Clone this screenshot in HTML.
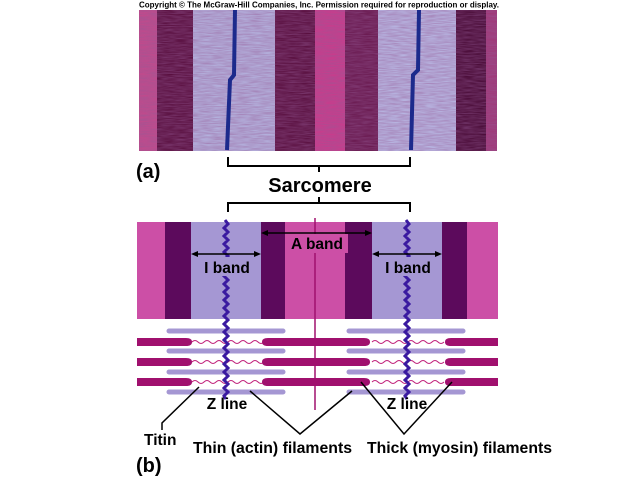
<!DOCTYPE html>
<html><head><style>body{margin:0;background:#fff}svg{display:block}text{font-family:"Liberation Sans",sans-serif;font-weight:bold;fill:#000}</style></head><body>
<svg width="640" height="480" viewBox="0 0 640 480" xmlns="http://www.w3.org/2000/svg">
<defs>
<filter id="n"><feTurbulence type="fractalNoise" baseFrequency="0.08 0.9" numOctaves="2" seed="3"/><feColorMatrix values="0 0 0 0 0.3 0 0 0 0 0.1 0 0 0 0 0.3 0 0 0 0.8 -0.15"/><feComposite in2="SourceGraphic" operator="in"/></filter>
</defs>
<text x="319" y="7.5" font-size="8" text-anchor="middle">Copyright © The McGraw-Hill Companies, Inc. Permission required for reproduction or display.</text>
<g>
<rect x="139" y="10" width="358" height="141" fill="#7a1e5c"/>
<rect x="139" y="10" width="18" height="141" fill="#c04a8c"/>
<rect x="157" y="10" width="38" height="141" fill="#5a1040"/>
<rect x="193" y="10" width="82" height="141" fill="#b4b2de"/>
<rect x="275" y="10" width="45" height="141" fill="#5a1040"/>
<rect x="315" y="10" width="35" height="141" fill="#c83c8c"/>
<rect x="345" y="10" width="35" height="141" fill="#6a1a50"/>
<rect x="378" y="10" width="78" height="141" fill="#b8b6e2"/>
<rect x="456" y="10" width="30" height="141" fill="#4a0c38"/>
<rect x="486" y="10" width="11" height="141" fill="#a03878"/>
<rect x="139" y="10" width="358" height="141" fill="#fff" filter="url(#n)"/>
<path d="M235 10 L234 75 L230 80 L227 150" stroke="#1c2a8c" stroke-width="4" fill="none"/>
<path d="M419 10 L418 70 L413 75 L411 150" stroke="#1c2a8c" stroke-width="4" fill="none"/>
</g>
<text x="136" y="178" font-size="20">(a)</text>
<path d="M228 157 V166 H410 V157 M319 166 V172" stroke="#000" stroke-width="2" fill="none"/>
<text x="320" y="192" font-size="20" text-anchor="middle">Sarcomere</text>
<path d="M228 212 V203 H410 V212 M319 203 V197" stroke="#000" stroke-width="2" fill="none"/>
<rect x="137" y="222" width="361" height="97" fill="#cc4fa6"/>
<rect x="165" y="222" width="26" height="97" fill="#5c0a5c"/>
<rect x="191" y="222" width="70" height="97" fill="#a597d3"/>
<rect x="261" y="222" width="24" height="97" fill="#5c0a5c"/>
<rect x="345" y="222" width="27" height="97" fill="#5c0a5c"/>
<rect x="372" y="222" width="70" height="97" fill="#a597d3"/>
<rect x="442" y="222" width="25" height="97" fill="#5c0a5c"/>
<line x1="315" y1="218" x2="315" y2="410" stroke="#a0106e" stroke-width="1.5"/>
<g stroke="#a597d3" stroke-width="5" stroke-linecap="round">
<line x1="169" y1="331" x2="283" y2="331"/><line x1="169" y1="351" x2="283" y2="351"/><line x1="169" y1="372" x2="283" y2="372"/><line x1="169" y1="392" x2="283" y2="392"/>
<line x1="349" y1="331" x2="463" y2="331"/><line x1="349" y1="351" x2="463" y2="351"/><line x1="349" y1="372" x2="463" y2="372"/><line x1="349" y1="392" x2="463" y2="392"/>
</g>
<g stroke="#c0207a" stroke-width="1" fill="none">
<path id="w" d="M192 342 q3 -3 6 0 q3 3 6 0 q3 -3 6 0 q3 3 6 0 q3 -3 6 0 q3 3 6 0 q3 -3 6 0 q3 3 6 0 q3 -3 6 0 q3 3 6 0 q3 -3 6 0 q3 3 6 0"/>
<use href="#w" y="20"/><use href="#w" y="40"/>
<use href="#w" x="180"/><use href="#w" x="180" y="20"/><use href="#w" x="180" y="40"/>
</g>
<g fill="#a0106e">
<path d="M137 338 H186 Q192 338 192 342 Q192 346 186 346 H137Z"/>
<path d="M137 358 H186 Q192 358 192 362 Q192 366 186 366 H137Z"/>
<path d="M137 378 H186 Q192 378 192 382 Q192 386 186 386 H137Z"/>
<path d="M268 338 H364 Q370 338 370 342 Q370 346 364 346 H268 Q262 346 262 342 Q262 338 268 338Z"/>
<path d="M268 358 H364 Q370 358 370 362 Q370 366 364 366 H268 Q262 366 262 362 Q262 358 268 358Z"/>
<path d="M268 378 H364 Q370 378 370 382 Q370 386 364 386 H268 Q262 386 262 382 Q262 378 268 378Z"/>
<path d="M498 338 H451 Q445 338 445 342 Q445 346 451 346 H498Z"/>
<path d="M498 358 H451 Q445 358 445 362 Q445 366 451 366 H498Z"/>
<path d="M498 378 H451 Q445 378 445 382 Q445 386 451 386 H498Z"/>
</g>
<g stroke="#3a1aa0" stroke-width="3" fill="none">
<path id="z" d="M225 220 l3 4 l-4 4 l4 4 l-4 4 l4 4 l-4 4 l4 4 l-4 4 l4 4 l-4 4 l4 4 l-4 4 l4 4 l-4 4 l4 4 l-4 4 l4 4 l-4 4 l4 4 l-4 4 l4 4 l-4 4 l4 4 l-4 4 l4 4 l-4 4 l4 4 l-4 4 l4 4 l-4 4 l4 4 l-4 4 l4 4 l-4 4 l4 4 l-4 4 l4 4 l-4 4 l4 4 l-4 4 l4 4 l-4 4 l4 4 l-4 4 l2 3"/>
<use href="#z" x="181"/>
</g>
<rect x="204" y="257" width="46" height="19" fill="#a597d3"/>
<rect x="385" y="257" width="46" height="19" fill="#a597d3"/>
<rect x="288" y="234" width="60" height="19" fill="#cc4fa6"/>
<g stroke="#000" stroke-width="1.5" fill="#000">
<line x1="195" y1="254" x2="257" y2="254"/><path d="M191 254 l7 -3 v6z M261 254 l-7 -3 v6z" stroke="none"/>
<line x1="265" y1="233" x2="368" y2="233"/><path d="M261 233 l7 -3 v6z M372 233 l-7 -3 v6z" stroke="none"/>
<line x1="376" y1="254" x2="438" y2="254"/><path d="M372 254 l7 -3 v6z M442 254 l-7 -3 v6z" stroke="none"/>
</g>
<text x="227" y="273" font-size="15.5" text-anchor="middle">I band</text>
<text x="317" y="249" font-size="15.5" text-anchor="middle">A band</text>
<text x="408" y="273" font-size="15.5" text-anchor="middle">I band</text>
<g stroke="#000" stroke-width="1.5" fill="none">
<path d="M199 387 L162 423 V430"/>
<path d="M250 391 L300 434 L352 391"/>
<path d="M361 382 L404 434 L452 382"/>
</g>
<text x="227" y="409" font-size="15.5" text-anchor="middle">Z line</text>
<text x="407" y="409" font-size="15.5" text-anchor="middle">Z line</text>
<text x="144" y="445" font-size="15.5">Titin</text>
<text x="193" y="453" font-size="15.8" textLength="159" lengthAdjust="spacingAndGlyphs">Thin (actin) filaments</text>
<text x="367" y="453" font-size="15.8" textLength="185" lengthAdjust="spacingAndGlyphs">Thick (myosin) filaments</text>
<text x="136" y="472" font-size="20">(b)</text>
</svg>
</body></html>
